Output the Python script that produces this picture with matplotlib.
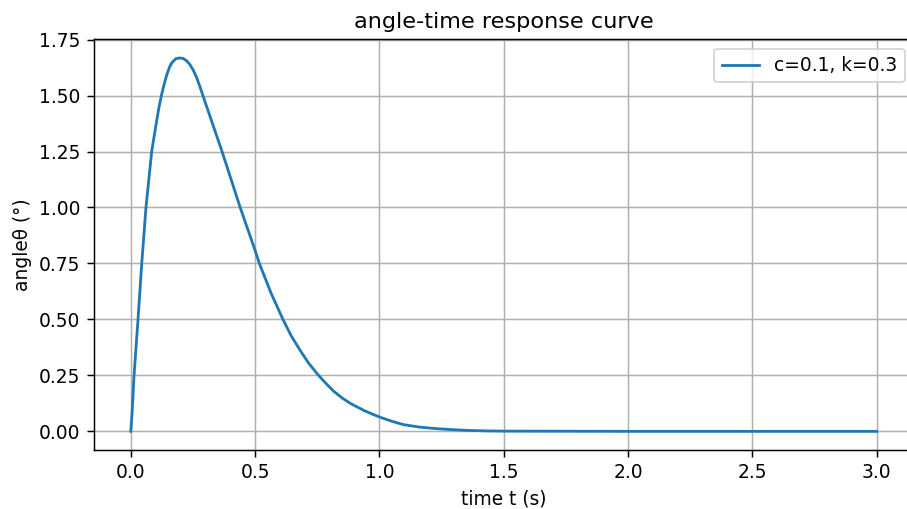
import numpy as np
import matplotlib
matplotlib.use("Agg")
import matplotlib.pyplot as plt

# values
time_s = [0.000, 0.005, 0.013, 0.029, 0.044, 0.061, 0.084, 0.100, 0.112,
          0.124, 0.134, 0.144, 0.155, 0.164, 0.180, 0.195, 0.210, 0.225,
          0.238, 0.251, 0.265, 0.278, 0.290, 0.330, 0.367, 0.405, 0.440,
          0.500, 0.517, 0.565, 0.612, 0.645, 0.681, 0.715, 0.755, 0.785,
          0.815, 0.850, 0.883, 0.940, 1.000, 1.050, 1.097, 1.160, 1.230,
          1.300, 1.360, 1.430, 1.500, 2.000, 2.500, 3.000]
angle_deg = [0.000, 0.078, 0.250, 0.500, 0.750, 1.000, 1.250, 1.360, 1.440,
             1.505, 1.550, 1.590, 1.625, 1.645, 1.664, 1.668, 1.666, 1.655,
             1.638, 1.614, 1.580, 1.540, 1.500, 1.370, 1.250, 1.120, 1.000,
             0.808, 0.750, 0.615, 0.500, 0.427, 0.362, 0.305, 0.250, 0.214,
             0.180, 0.149, 0.125, 0.092, 0.064, 0.045, 0.030, 0.019, 0.012,
             0.007, 0.004, 0.002, 0.001, 0.000, 0.000, 0.000]
series_label = "c=0.1, k=0.3"

DPI = 134
fig = plt.figure(figsize=(907 / DPI, 509 / DPI), dpi=DPI)
ax = fig.add_axes([0.1031, 0.1159, 0.9046, 0.8069])
ax.plot(time_s, angle_deg, label=series_label)
ax.set_title("angle-time response curve")
ax.set_xlabel("time t (s)")
ax.set_ylabel("angleθ (°)")
ax.grid(True)
ax.legend(loc="upper right")

fig.savefig("out.png", dpi=DPI)
